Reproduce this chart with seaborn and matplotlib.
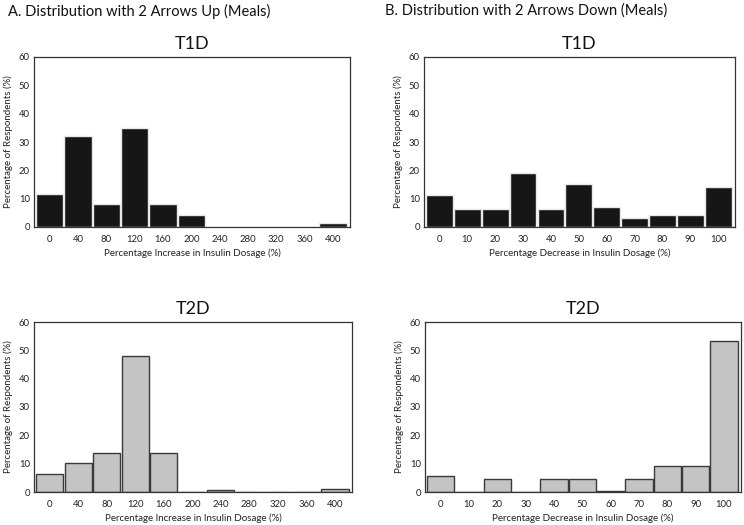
import numpy as np
import pandas as pd
import matplotlib
matplotlib.use("Agg")
import matplotlib.pyplot as plt
import seaborn as sns

# ----------------------------
# data
# ----------------------------
increase_bins = ['0', '40', '80', '120', '160', '200', '240', '280', '320', '360', '400']
decrease_bins = ['0', '10', '20', '30', '40', '50', '60', '70', '80', '90', '100']

up_t1d = [11.5, 32.0, 8.0, 35.0, 8.0, 4.2, 0, 0, 0, 0, 1.3]
up_t2d = [6.2, 10.2, 13.7, 48.0, 13.7, 0, 0.8, 0, 0, 0, 1.2]
down_t1d = [11.3, 6.4, 6.4, 19.2, 6.4, 15.2, 7.2, 3.2, 4.1, 4.1, 14.2]
down_t2d = [5.5, 0, 4.6, 0, 4.6, 4.6, 0.5, 4.6, 9.3, 9.3, 53.2]

sns.set_style("white")
plt.rcParams['font.family'] = ['Lato', 'DejaVu Sans']

W, H = 744, 525
fig = plt.figure(figsize=(W / 100, H / 100), dpi=100)


def px_axes(x0, y0, x1, y1):
    return fig.add_axes([x0 / W, 1 - y1 / H, (x1 - x0) / W, (y1 - y0) / H])


panels = [
    # (box, cats, values, title, xlabel, fill, edge)
    ((34, 57, 350, 227), increase_bins, up_t1d, 'T1D',
     'Percentage Increase in Insulin Dosage (%)', '#161616', '#e8e8e8'),
    ((424, 57, 735, 227), decrease_bins, down_t1d, 'T1D',
     'Percentage Decrease in Insulin Dosage (%)', '#161616', '#e8e8e8'),
    ((34, 322, 352, 492), increase_bins, up_t2d, 'T2D',
     'Percentage Increase in Insulin Dosage (%)', '#c4c4c4', '#3a3a3a'),
    ((425, 322, 741, 492), decrease_bins, down_t2d, 'T2D',
     'Percentage Decrease in Insulin Dosage (%)', '#c4c4c4', '#3a3a3a'),
]

for box, cats, vals, title, xlabel, fill, edge in panels:
    ax = px_axes(*box)
    df = pd.DataFrame({'bin': cats, 'pct': vals})
    sns.barplot(data=df, x='bin', y='pct', order=cats, color=fill,
                width=0.96, edgecolor=edge, linewidth=1.0, saturation=1, ax=ax)
    ax.set_xlim(-0.55, 10.6)
    ax.set_ylim(0, 60)
    ax.set_yticks([0, 10, 20, 30, 40, 50, 60])
    ax.tick_params(axis='both', length=0, labelsize=6.8, colors='#222222', pad=3)
    ax.tick_params(axis='x', pad=6)
    ax.set_xlabel(xlabel, fontsize=7, color='#222222', labelpad=3)
    ax.set_ylabel('Percentage of Respondents (%)', fontsize=7, color='#222222', labelpad=4)
    for s in ax.spines.values():
        s.set_visible(True)
        s.set_color('#333333')
        s.set_linewidth(0.9)
    ax.set_title(title, fontsize=13, pad=6, color='#111111')

fig.text(8 / W, 1 - 11 / H, 'A. Distribution with 2 Arrows Up (Meals)',
         fontsize=10.5, va='center', ha='left', color='#111111')
fig.text(385 / W, 1 - 11 / H, 'B. Distribution with 2 Arrows Down (Meals)',
         fontsize=10.5, va='center', ha='left', color='#111111')

fig.savefig('out.png', dpi=100)
